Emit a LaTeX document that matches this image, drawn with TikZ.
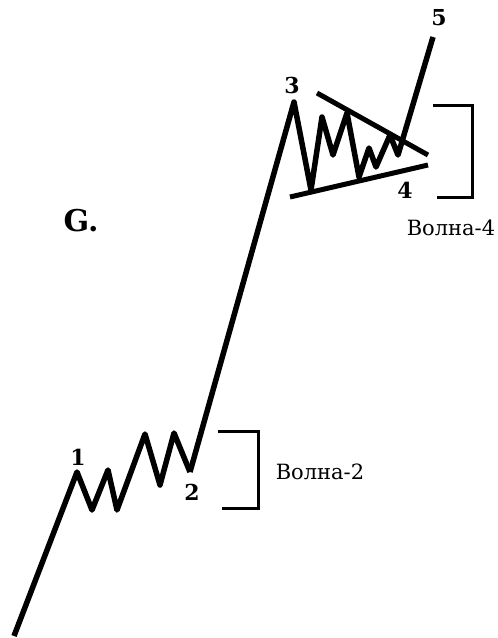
\documentclass[tikz,border=0pt]{standalone}
\usepackage{fontspec}
\setmainfont{DejaVu Serif}
\usepackage{tikz}

\begin{document}
\begin{tikzpicture}[x=1pt,y=-1pt]
    \useasboundingbox (0,0) rectangle (498,638);
    %--- wave points ---
    \coordinate (s0) at (14,636);
    \coordinate (w1) at (77,472);
    \coordinate (w2) at (190,472);
    \coordinate (w3) at (294,102);
    \coordinate (w4) at (398,155);
    \coordinate (w5) at (433,37);
    %--- wave 1 and wave 2 ---
    \draw[line width=5.5pt,line join=round] (s0) -- (w1) -- (92,510) -- (108,470) -- (117,510)
        -- (145,434) -- (160,485) -- (174,433) -- (w2);
    %--- wave 3, triangle of wave 4, wave 5 ---
    \draw[line width=5.5pt,line join=round] (w2) -- (w3) -- (311,190) -- (322,117) -- (333,155)
        -- (347,113) -- (359,177) -- (369,148) -- (376,167) -- (390,135) -- (w4) -- (w5);
    \draw[line width=5pt] (317,93) -- (428,155);
    \draw[line width=5pt] (290,197) -- (428,165);
    %--- brackets ---
    \draw[line width=3pt] (218,431) -- (258,431) -- (258,508) -- (222,508);
    \draw[line width=3pt] (433,105) -- (472,105) -- (472,197) -- (437,197);
    %--- labels ---
    \node[font=\bfseries\fontsize{22}{22}\selectfont] (n1) at (78,457) {1};
    \node[font=\bfseries\fontsize{22}{22}\selectfont] (n2) at (192,492) {2};
    \node[font=\bfseries\fontsize{22}{22}\selectfont] (n3) at (292,85) {3};
    \node[font=\bfseries\fontsize{22}{22}\selectfont] (n4) at (405,190) {4};
    \node[font=\bfseries\fontsize{22}{22}\selectfont] (n5) at (439,18) {5};
    \node[font=\fontsize{21}{21}\selectfont] (v2) at (320,472) {Волна-2};
    \node[font=\fontsize{21}{21}\selectfont] (v4) at (451,228) {Волна-4};
    \node[font=\bfseries\fontsize{30}{30}\selectfont] (g) at (81,221) {G.};
\end{tikzpicture}
\end{document}
